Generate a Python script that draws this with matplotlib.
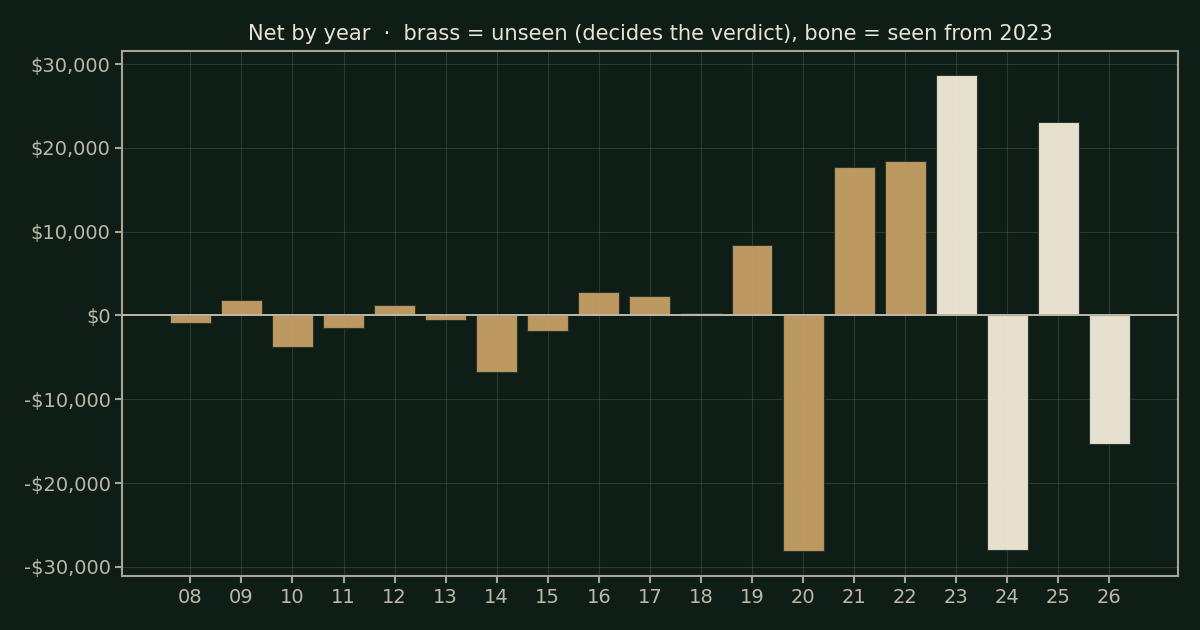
import numpy as np
import matplotlib
matplotlib.use("Agg")
import matplotlib.pyplot as plt
from matplotlib.ticker import FuncFormatter

plt.rcParams['font.family'] = ['DejaVu Sans']

# Net result per year (two-digit year labels)
years = [2008, 2009, 2010, 2011, 2012, 2013, 2014, 2015, 2016, 2017,
         2018, 2019, 2020, 2021, 2022, 2023, 2024, 2025, 2026]
net = [-950, 1900, -3800, -1550, 1200, -600, -6800, -1800, 2850, 2300,
       350, 8450, -28100, 17750, 18450, 28650, -28000, 23050, -15400]
seen_from = 2023

BG = "#0f1d17"
BRASS = "#cba368"
BONE = "#f8f0de"
TEXT = "#e8e3d2"
TICK = "#bcb8a8"
SPINE = "#a9a592"

fig, ax = plt.subplots(figsize=(12, 6.3), dpi=100)
fig.patch.set_facecolor(BG)
ax.set_facecolor(BG)

x = np.array(years)
colors = [BONE if y >= seen_from else BRASS for y in years]
ax.bar(x, net, width=0.8, color=colors, edgecolor="#26322a", linewidth=0.8,
       alpha=0.93, zorder=2)
ax.axhline(0, color="#bdb9a8", linewidth=1.4, zorder=3)

ax.set_xticks(x)
ax.set_xticklabels([f"{y % 100:02d}" for y in years])
ax.set_yticks([-30000, -20000, -10000, 0, 10000, 20000, 30000])
ax.yaxis.set_major_formatter(FuncFormatter(
    lambda v, p: f"-${abs(v):,.0f}" if v < 0 else f"${v:,.0f}"))
ax.set_xlim(years[0] - 1.33, years[-1] + 1.35)
ax.set_ylim(-31070, 31550)

ax.grid(True, color="#6a786a", alpha=0.3, linewidth=0.8, zorder=1)
for s in ax.spines.values():
    s.set_color(SPINE)
    s.set_linewidth(1.5)
ax.tick_params(colors=SPINE, labelcolor=TICK, labelsize=14, width=1.5, length=5)

ax.set_title("Net by year  ·  brass = unseen (decides the verdict), bone = seen from 2023",
             color=TEXT, fontsize=15.1, pad=8)

plt.subplots_adjust(left=0.102, right=0.982, top=0.919, bottom=0.086)
plt.savefig("out.png", dpi=100, facecolor=BG)
